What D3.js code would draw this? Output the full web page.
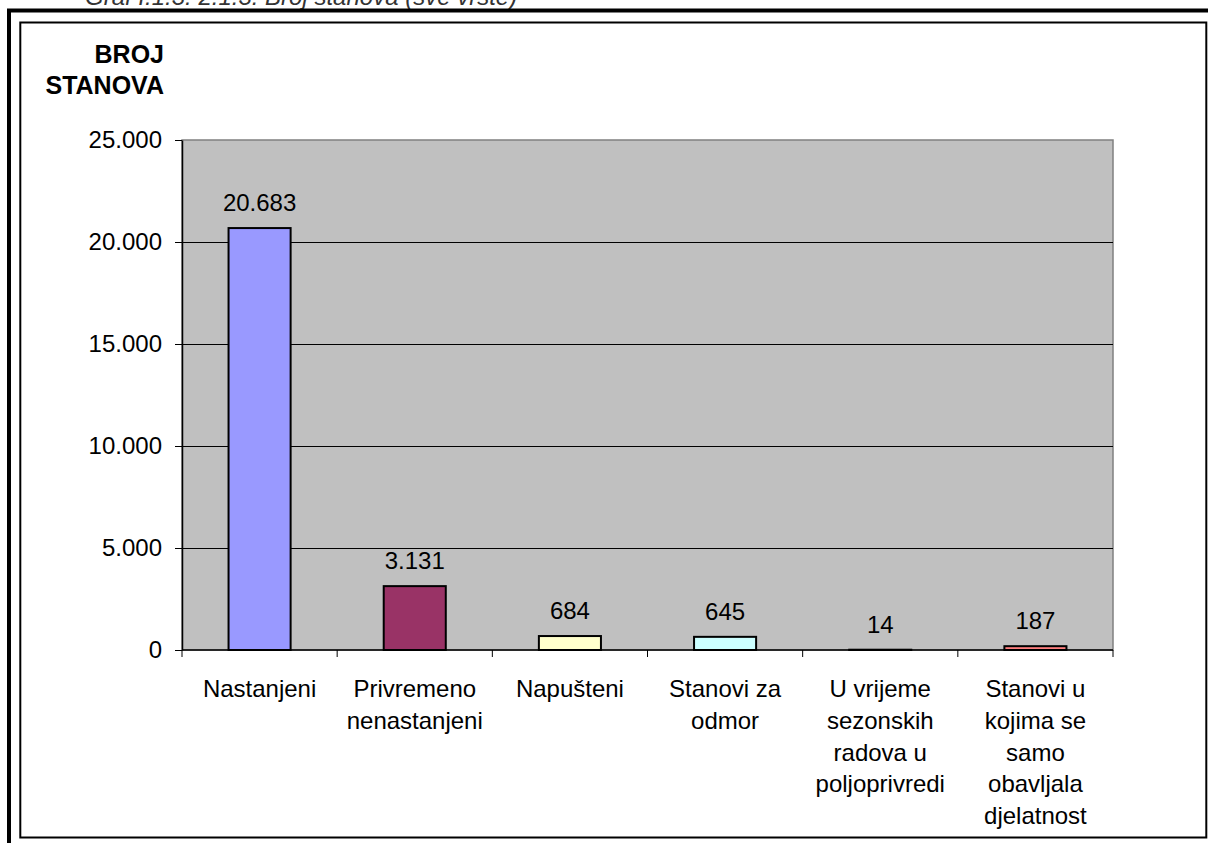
<!DOCTYPE html>
<html lang="hr">
<head>
<meta charset="UTF-8">
<script src="https://d3js.org/d3.v7.min.js"></script>
<title>Broj stanova</title>
<style>
  body{ margin:0; background:#fff; }
  svg{ display:block; font-family:"Liberation Sans", Arial, sans-serif; }
  .axis path, .axis line{ stroke:#000; }
</style>
</head>
<body>
<svg id="chart" width="1208" height="843"></svg>
<script>
// podaci
var categories = [
  "Nastanjeni",
  "Privremeno\nnenastanjeni",
  "Napušteni",
  "Stanovi za\nodmor",
  "U vrijeme\nsezonskih\nradova u\npoljoprivredi",
  "Stanovi u\nkojima se\nsamo\nobavljala\ndjelatnost"
];
var values = [20683, 3131, 684, 645, 14, 187];
var barColors = ["#9999FF", "#993366", "#FFFFCC", "#CCFFFF", "#660066", "#FF8080"];
var yTicks = [0, 5000, 10000, 15000, 20000, 25000];

var svg = d3.select("#chart");
var plot = {left:182, right:1113, top:140, bottom:650};

var loc = d3.formatLocale({decimal:",", thousands:".", grouping:[3], currency:["",""]});
var fmt = loc.format(",");

// okviri
svg.append("text")
  .attr("x", 85).attr("y", 5)
  .attr("font-size", "24px").attr("font-style", "italic").attr("fill", "#333")
  .text("Graf I.1.3. 2.1.3: Broj stanova (sve vrste)");
svg.append("path")
  .attr("d", "M9,843 V10.5 H1208")
  .attr("fill", "none").attr("stroke", "#000").attr("stroke-width", 4);
svg.append("rect")
  .attr("x", 20.3).attr("y", 22.5).attr("width", 1186).attr("height", 815)
  .attr("fill", "#fff").attr("stroke", "#000").attr("stroke-width", 2);

var x = d3.scaleBand().domain(d3.range(categories.length)).range([plot.left, plot.right]).padding(0);
var y = d3.scaleLinear().domain([0, 25000]).range([plot.bottom, plot.top]);

// pozadina
svg.append("rect")
  .attr("x", plot.left).attr("y", plot.top)
  .attr("width", plot.right - plot.left).attr("height", plot.bottom - plot.top)
  .attr("fill", "#C0C0C0").attr("stroke", "#808080").attr("stroke-width", 1.5);

// mreža
svg.append("g")
  .selectAll("line")
  .data(yTicks.filter(function(d){ return d > 0 && d < 25000; }))
  .enter().append("line")
  .attr("x1", plot.left).attr("x2", plot.right)
  .attr("y1", function(d){ return Math.round(y(d)) + 0.5; })
  .attr("y2", function(d){ return Math.round(y(d)) + 0.5; })
  .attr("stroke", "#000").attr("stroke-width", 1);

// stupci
var bw = x.bandwidth() / 2.5;
svg.append("g")
  .selectAll("rect")
  .data(values)
  .enter().append("rect")
  .attr("x", function(d, i){ return x(i) + (x.bandwidth() - bw) / 2; })
  .attr("y", function(d){ return y(d); })
  .attr("width", bw)
  .attr("height", function(d){ return y(0) - y(d); })
  .attr("fill", function(d, i){ return barColors[i]; })
  .attr("stroke", "#000").attr("stroke-width", 2);

// y os
var yAxis = svg.append("g")
  .attr("class", "axis")
  .attr("transform", "translate(" + plot.left + ",0)")
  .call(d3.axisLeft(y).tickValues(yTicks).tickFormat(fmt).tickSizeInner(7).tickSizeOuter(0).tickPadding(13));
yAxis.selectAll("text").attr("font-size", "24px").attr("fill", "#000").attr("font-family", "Liberation Sans, Arial, sans-serif");
yAxis.select(".domain").attr("stroke-width", 1.5);

// x os
svg.append("line")
  .attr("x1", plot.left).attr("x2", plot.right)
  .attr("y1", plot.bottom).attr("y2", plot.bottom)
  .attr("stroke", "#000").attr("stroke-width", 1.5);
var bounds = d3.range(categories.length).map(function(i){ return x(i); }).concat([plot.right]);
svg.append("g")
  .selectAll("line")
  .data(bounds)
  .enter().append("line")
  .attr("x1", function(d){ return d; }).attr("x2", function(d){ return d; })
  .attr("y1", plot.bottom).attr("y2", plot.bottom + 7)
  .attr("stroke", "#000").attr("stroke-width", 1);

// natpisi kategorija
var catText = svg.append("g")
  .selectAll("text")
  .data(categories)
  .enter().append("text")
  .attr("text-anchor", "middle")
  .attr("font-size", "24px")
  .attr("fill", "#000")
  .attr("transform", function(d, i){ return "translate(" + (x(i) + x.bandwidth() / 2) + ",697)"; });
catText.each(function(d){
  var t = d3.select(this);
  d.split("\n").forEach(function(line, k){
    t.append("tspan").attr("x", 0).attr("y", k * 31.8).text(line);
  });
});

// vrijednosti
svg.append("g")
  .selectAll("text")
  .data(values)
  .enter().append("text")
  .attr("x", function(d, i){ return x(i) + x.bandwidth() / 2; })
  .attr("y", function(d){ return y(d) - 17; })
  .attr("text-anchor", "middle")
  .attr("font-size", "24px")
  .attr("fill", "#000")
  .text(function(d){ return fmt(d); });

// naslov osi
var yTitle = svg.append("text")
  .attr("text-anchor", "end")
  .attr("font-size", "25px")
  .attr("font-weight", "bold")
  .attr("fill", "#000");
yTitle.append("tspan").attr("x", 164).attr("y", 63).text("BROJ");
yTitle.append("tspan").attr("x", 164).attr("y", 94).text("STANOVA");
</script>
</body>
</html>
